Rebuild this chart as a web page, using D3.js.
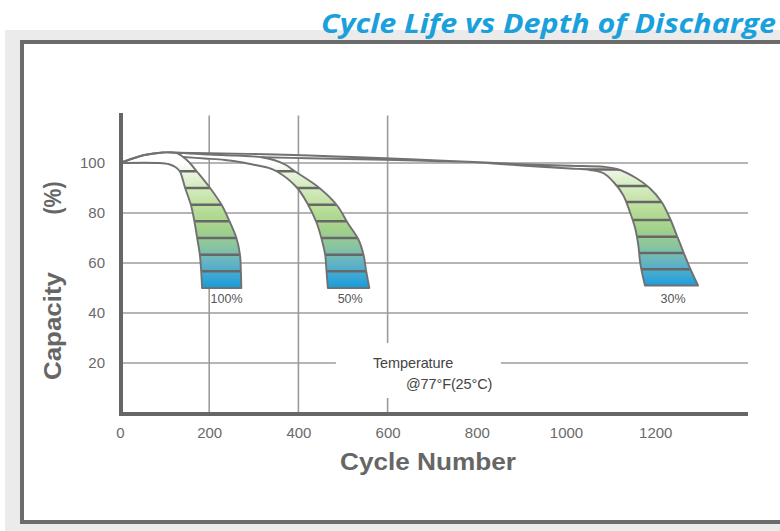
<!DOCTYPE html>
<html>
<head>
<meta charset="utf-8">
<script src="https://cdn.jsdelivr.net/npm/d3@7/dist/d3.min.js"></script>
<style>
  html, body { margin: 0; padding: 0; background: #fff; }
  svg { display: block; }
</style>
</head>
<body>
<svg id="chart" width="780" height="531"></svg>
<script>
// ---------------- data ----------------
const titleText = "Cycle Life vs Depth of Discharge";
const xTickValues = [0, 200, 400, 600, 800, 1000, 1200];
const yTickValues = [20, 40, 60, 80, 100];
const xGridValues = [200, 400, 600];
const xLabel = "Cycle Number";
const yLabelWord = "Capacity";
const yLabelUnit = "(%)";
const tempLine1 = "Temperature";
const tempLine2 = "@77°F(25°C)";
const tempPos = [567, 18];            // cycle, capacity of the note

// band edges: [cycle, capacity %]
const topLine = [[0,100],[25,101.6],[55,103.2],[96,104.2],[126,104.1],[200,103.9],[350,103.4],[470,102.7],[594,101.9],[700,101.1],[807,100.3],[900,99.5],[1009,98.9],[1083,98.5],[1114,97.6],[1158,93.9],[1188,89.9],[1214,84.5],[1233,77.9],[1248,71.2],[1263,64.5],[1278,57.9],[1296,51]];
const left30  = [[318,102.3],[420,101.9],[594,101.3],[700,100.8],[807,100.2],[900,99],[1009,97.8],[1054,97.2],[1084,95.9],[1106,92.5],[1128,87.2],[1143,80.5],[1155,73.9],[1162,67.2],[1166,60.5],[1170,56.5],[1177,51]];
const right50 = [[126,104.1],[150,103.9],[200,103.4],[260,103.0],[318,102.3],[345,101.2],[370,99.4],[392,96.7],[445,90.3],[486,83.2],[512,75.6],[534,69.6],[546,63.3],[552,56.7],[559,50]];
const left50  = [[141,102.4],[190,101.8],[235,101.2],[275,100.2],[303,99.2],[330,98.2],[351,96.7],[396,90.3],[422,83.2],[441,76],[452,69.6],[460,63.3],[463,56.7],[466,50]];
const right100 = [[0,100],[25,101.6],[55,103.2],[96,104.2],[126,104.1],[140,102.6],[155,100.3],[172,96.7],[202,90],[228,83.2],[246,76.5],[261,70],[269,63.3],[271,56.7],[272,50]];
const left100  = [[0,100],[88,100],[110,99.5],[124,98.4],[134,96.7],[146,90],[159,83.2],[167,76.5],[173,70],[179,63.3],[182,56.7],[184,50]];

const stripes30  = [57.5, 64, 70.5, 77.2, 84.4, 90.8, 97.4];
const stripes50  = [56.7, 63.3, 70, 76.7, 83.3, 90, 96.7];
const stripes100 = [56.7, 63.3, 70, 76.7, 83.3, 90, 96.7];

const dodLabels = ["30%", "50%", "100%"];
const dodLabelX = [1240, 516, 239];
const dodLabelCap = 44;

// gradient (capacity -> colour)
const gradCaps   = [100, 97, 93, 86, 80, 73, 66, 60, 54, 50];
const gradColors = ["#ffffff","#eef6e6","#ddefcc","#c8e5ac","#b4db94","#a1d08b","#87c3a3","#63b3c4","#36a5d6","#129ddd"];

// ---------------- drawing ----------------
const svg = d3.select("#chart");
const W = 780, H = 531;
const FONT = "'Liberation Sans', Arial, Helvetica, sans-serif";

// page background & frame
svg.append("rect").attr("x",0).attr("y",0).attr("width",W).attr("height",H).attr("fill","#ffffff");
svg.append("rect").attr("x",5).attr("y",30).attr("width",W).attr("height",H).attr("fill","#ebebeb");
svg.append("rect").attr("x",22).attr("y",42).attr("width",W+20).attr("height",480)
  .attr("fill","#ffffff").attr("stroke","#6b6b6b").attr("stroke-width",4);

// title
svg.append("text")
  .attr("x", 776).attr("y", 33)
  .attr("text-anchor","end")
  .attr("font-family","'Open Sans', 'Noto Sans', sans-serif")
  .attr("font-style","italic").attr("font-weight",700)
  .attr("font-size",27)
  .attr("fill","#1aa1dc")
  .attr("textLength",455).attr("lengthAdjust","spacingAndGlyphs")
  .text(titleText);

const x = d3.scaleLinear().domain([0, 1408]).range([120, 748]);
const y = d3.scaleLinear().domain([0, 120]).range([413, 113]);

// gridlines
const grid = svg.append("g");
grid.selectAll("line.h").data(yTickValues).join("line")
  .attr("x1", x(0)).attr("x2", x(1408))
  .attr("y1", d => y(d)).attr("y2", d => y(d))
  .attr("stroke","#9c9c9c").attr("stroke-width",1.6);
grid.selectAll("line.v").data(xGridValues).join("line")
  .attr("x1", d => x(d)).attr("x2", d => x(d))
  .attr("y1", y(119)).attr("y2", y(0))
  .attr("stroke","#9c9c9c").attr("stroke-width",1.6);

// temperature note (with white gap behind)
const tx = x(tempPos[0]), ty = y(tempPos[1]);
svg.append("rect").attr("x", tx - 37).attr("y", ty - 25).attr("width", 165).attr("height", 55).attr("fill","#fff");
const note = svg.append("text").attr("font-family", FONT).attr("font-size",14.5).attr("fill","#444").attr("letter-spacing","-0.1");
note.append("tspan").attr("x", tx).attr("y", ty).text(tempLine1);
note.append("tspan").attr("x", tx + 33).attr("y", ty + 21).text(tempLine2);

// gradient
const defs = svg.append("defs");
const grad = defs.append("linearGradient").attr("id","bandGrad")
  .attr("gradientUnits","userSpaceOnUse")
  .attr("x1",0).attr("x2",0).attr("y1", y(100)).attr("y2", y(50));
gradCaps.forEach((c, i) => {
  grad.append("stop").attr("offset", (100 - c) / 50).attr("stop-color", gradColors[i]);
});

const line = d3.line().x(d => x(d[0])).y(d => y(d[1])).curve(d3.curveCatmullRom.alpha(0.5));

const bands = [
  { id: "b30", right: topLine, left: left30, stripes: stripes30 },
  { id: "b50", right: right50, left: left50, stripes: stripes50 },
  { id: "b100", right: right100, left: left100, stripes: stripes100 }
];

bands.forEach(b => {
  b.open = line(b.right) + line(b.left.slice().reverse()).replace(/^M/, "L");
  b.closed = b.open + "Z";
  defs.append("clipPath").attr("id", "clip-" + b.id).append("path").attr("d", b.closed);
});

const bandG = svg.append("g");
// fills
bands.forEach(b => {
  bandG.append("path").attr("d", b.closed).attr("fill", "url(#bandGrad)");
});
// stripes
bands.forEach(b => {
  bandG.append("g").attr("clip-path", `url(#clip-${b.id})`)
    .selectAll("line").data(b.stripes).join("line")
    .attr("x1", x(0)).attr("x2", x(1408))
    .attr("y1", d => y(d)).attr("y2", d => y(d))
    .attr("stroke", "#676767").attr("stroke-width", 2.6);
});
// outlines
bands.forEach(b => {
  bandG.append("path").attr("d", b.open).attr("fill","none")
    .attr("stroke","#717171").attr("stroke-width",1.9).attr("stroke-linejoin","round");
});

// band labels
svg.append("g").selectAll("text").data(dodLabels).join("text")
  .attr("x", (d, i) => x(dodLabelX[i])).attr("y", y(dodLabelCap))
  .attr("text-anchor","middle")
  .attr("font-family", FONT).attr("font-size",12.5).attr("fill","#555")
  .text(d => d);

// axes
const xAxis = svg.append("g").attr("transform", `translate(0,${y(0)})`)
  .call(d3.axisBottom(x).tickValues(xTickValues).tickSize(0).tickPadding(14).tickFormat(d3.format("d")));
xAxis.select(".domain").remove();
xAxis.selectAll("text").attr("font-family", FONT).attr("font-size",15).attr("fill","#6a6a6a");

const yAxis = svg.append("g").attr("transform", `translate(${x(0)},0)`)
  .call(d3.axisLeft(y).tickValues(yTickValues).tickSize(0).tickPadding(15).tickFormat(d3.format("d")));
yAxis.select(".domain").remove();
yAxis.selectAll("text").attr("font-family", FONT).attr("font-size",15).attr("fill","#6a6a6a");

// axis lines
svg.append("line").attr("x1", x(0) + 1).attr("x2", x(0) + 1).attr("y1", y(120)).attr("y2", y(0) + 2)
  .attr("stroke","#666").attr("stroke-width",4);
svg.append("line").attr("x1", x(0) - 1).attr("x2", x(1408)).attr("y1", y(0) + 1).attr("y2", y(0) + 1)
  .attr("stroke","#666").attr("stroke-width",4);

// axis titles
svg.append("text").attr("x", 428).attr("y", 470).attr("text-anchor","middle")
  .attr("font-family", FONT).attr("font-weight",700).attr("font-size",24).attr("fill","#666")
  .attr("textLength",176).attr("lengthAdjust","spacingAndGlyphs")
  .text(xLabel);
svg.append("text").attr("transform","translate(61,326) rotate(-90)").attr("text-anchor","middle")
  .attr("font-family", FONT).attr("font-weight",700).attr("font-size",24).attr("fill","#666")
  .attr("textLength",108).attr("lengthAdjust","spacingAndGlyphs")
  .text(yLabelWord);
svg.append("text").attr("transform","translate(61,198) rotate(-90)").attr("text-anchor","middle")
  .attr("font-family", FONT).attr("font-weight",700).attr("font-size",24).attr("fill","#666")
  .attr("textLength",33).attr("lengthAdjust","spacingAndGlyphs")
  .text(yLabelUnit);
</script>
</body>
</html>
